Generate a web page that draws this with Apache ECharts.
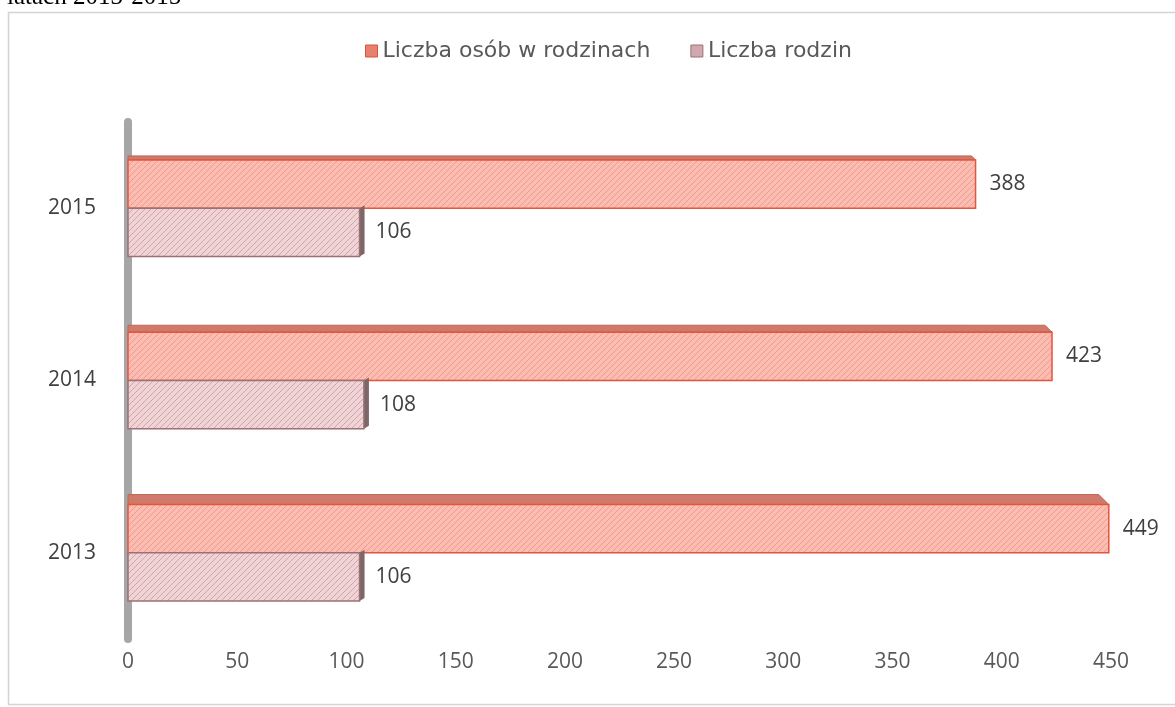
<!DOCTYPE html>
<html>
<head>
<meta charset="utf-8">
<script src="https://cdn.jsdelivr.net/npm/echarts@6/dist/echarts.min.js"></script>
<style>
  html, body { margin: 0; padding: 0; background: #fff; }
  #chart { width: 1175px; height: 707px; }
</style>
</head>
<body>
<div id="chart"></div>
<script>
// data
var years = ['2013', '2014', '2015']
var osoby = [449, 423, 388]   // Liczba osób w rodzinach
var rodziny = [106, 108, 106] // Liczba rodzin
var xTicks = { min: 0, max: 450, step: 50 }

// hatch pattern like the excel fill
function hatch(bg, line) {
  var c = document.createElement('canvas')
  c.width = 6
  c.height = 6
  var ctx = c.getContext('2d')
  ctx.fillStyle = bg
  ctx.fillRect(0, 0, 6, 6)
  ctx.strokeStyle = line
  ctx.lineWidth = 1
  ctx.beginPath()
  ctx.moveTo(0, 6); ctx.lineTo(6, 0)
  ctx.moveTo(-1, 1); ctx.lineTo(1, -1)
  ctx.moveTo(5, 7); ctx.lineTo(7, 5)
  ctx.stroke()
  return { image: c, repeat: 'repeat' }
}

var redFill = hatch('#fbbcb1', '#ef9a8c')
var pinkFill = hatch('#f1d3d6', '#c9a9ac')

function barRenderer(isTop) {
  return function (params, api) {
    var val = api.value(0)
    var idx = api.value(1)
    var p0 = api.coord([0, idx])
    var p1 = api.coord([val, idx])
    var band = api.size([0, 1])[1]
    var h = band * 0.28
    var x0 = p0[0], x1 = p1[0]
    var yt = isTop ? p0[1] - h : p0[1]
    var d = 10 - 3 * idx
    var kids = []
    if (isTop) {
      kids.push({
        type: 'polygon',
        shape: { points: [[x0, yt], [x1, yt], [x1 - d, yt - d], [x0, yt - d]] },
        style: { fill: '#cf7a6b', stroke: '#bf6656', lineWidth: 1 }
      })
    } else {
      kids.push({
        type: 'polygon',
        shape: { points: [[x1, yt], [x1 + 5, yt - 3], [x1 + 5, yt + h - 3], [x1, yt + h]] },
        style: { fill: '#7d6668' }
      })
    }
    kids.push({
      type: 'rect',
      shape: { x: x0, y: yt, width: x1 - x0, height: h },
      style: {
        fill: isTop ? redFill : pinkFill,
        stroke: isTop ? '#e2553f' : '#9c7074',
        lineWidth: 1.5
      }
    })
    kids.push({
      type: 'text',
      x: x1 + (isTop ? 14 : 16),
      y: yt + h / 2,
      style: {
        text: String(val),
        fill: '#404040',
        fontSize: 21,
        fontFamily: '"Open Sans", sans-serif',
        verticalAlign: 'middle'
      }
    })
    return { type: 'group', children: kids }
  }
}

var chart = echarts.init(document.getElementById('chart'))
chart.setOption({
  animation: false,
  title: {
    text: 'latach 2013-2015',
    left: 2,
    top: -20,
    textStyle: { fontFamily: '"Liberation Serif", serif', fontSize: 25, fontWeight: 'normal', color: '#000' }
  },
  graphic: [{
    type: 'rect',
    z: -1,
    shape: { x: 8.5, y: 12.5, width: 1200, height: 692 },
    style: { fill: '#fff', stroke: '#d4d4d4', lineWidth: 1.5 }
  }],
  legend: {
    top: 35,
    left: 360,
    itemGap: 40,
    itemWidth: 12,
    itemHeight: 12,
    icon: 'rect',
    textStyle: { fontSize: 22, color: '#595959', fontFamily: '"DejaVu Sans", sans-serif' },
    data: [
      { name: 'Liczba osób w rodzinach', itemStyle: { color: '#e8806f', borderColor: '#d9533e', borderWidth: 1 } },
      { name: 'Liczba rodzin', itemStyle: { color: '#cfa9ad', borderColor: '#9c7074', borderWidth: 1 } }
    ]
  },
  grid: { left: 128, right: 64, top: 122, bottom: 68 },
  xAxis: {
    type: 'value',
    min: xTicks.min,
    max: xTicks.max,
    interval: xTicks.step,
    axisLine: { show: false },
    axisTick: { show: false },
    splitLine: { show: false },
    axisLabel: { fontSize: 21, color: '#595959', margin: 13, fontFamily: '"Open Sans", sans-serif' }
  },
  yAxis: {
    type: 'category',
    data: years,
    axisLine: { show: true, lineStyle: { color: '#a6a6a6', width: 8 } },
    axisTick: { show: false },
    axisLabel: { fontSize: 21, color: '#404040', margin: 32, fontFamily: '"Open Sans", sans-serif' }
  },
  series: [
    {
      name: 'Liczba osób w rodzinach',
      type: 'custom',
      renderItem: barRenderer(true),
      encode: { x: 0, y: 1 },
      itemStyle: { color: '#e8806f' },
      data: osoby.map(function (v, i) { return [v, i] })
    },
    {
      name: 'Liczba rodzin',
      type: 'custom',
      renderItem: barRenderer(false),
      encode: { x: 0, y: 1 },
      itemStyle: { color: '#cfa9ad' },
      data: rodziny.map(function (v, i) { return [v, i] })
    }
  ]
})
</script>
</body>
</html>
